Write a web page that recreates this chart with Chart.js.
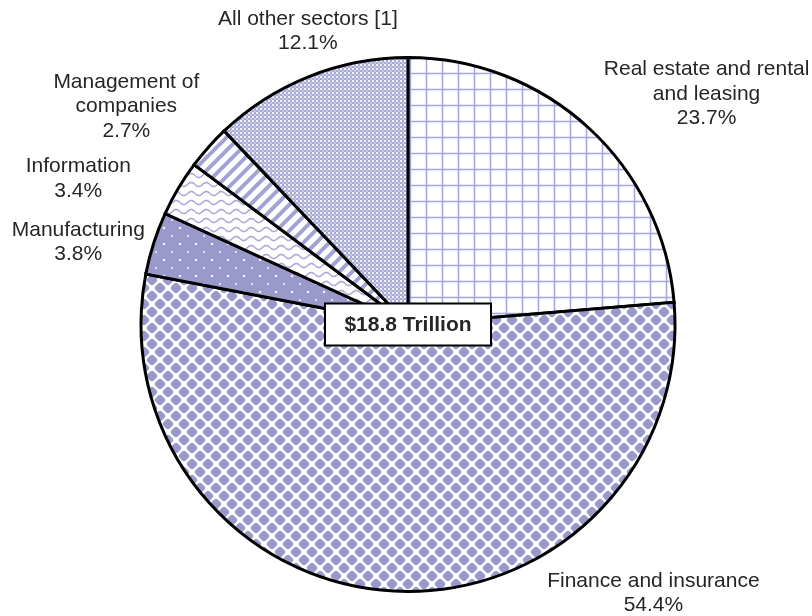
<!DOCTYPE html>
<html>
<head>
<meta charset="utf-8">
<script src="https://cdn.jsdelivr.net/npm/chart.js@4"></script>
<style>
  html, body { margin: 0; padding: 0; background: #fff; }
  #wrap { width: 812px; height: 616px; }
</style>
</head>
<body>
<div id="wrap"><canvas id="pie" width="812" height="616"></canvas></div>
<script>
// slices, clockwise from 12 o'clock
const sectors = ['Real estate and rental and leasing', 'Finance and insurance', 'Manufacturing',
                 'Information', 'Management of companies', 'All other sectors [1]'];
const shares = [23.7, 54.4, 3.8, 3.4, 2.7, 12.1];
const labelLines = [
    ['Real estate and rental', 'and leasing'],
    ['Finance and insurance'],
    ['Manufacturing'],
    ['Information'],
    ['Management of', 'companies'],
    ['All other sectors [1]']
];
const totalLabel = '$18.8 Trillion';

const PURPLE = '#9999cc';

function makeTile(w, h, draw)
{
    let c = document.createElement('canvas');
    c.width = w; c.height = h;
    let g = c.getContext('2d');
    draw(g, w, h);
    return document.getElementById('pie').getContext('2d').createPattern(c, 'repeat');
}

let gridFill = makeTile(16, 16, (g) => {
    g.fillStyle = '#fff'; g.fillRect(0, 0, 16, 16);
    g.strokeStyle = '#a6a6d6'; g.lineWidth = 1.5;
    g.beginPath(); g.moveTo(10.5, 0); g.lineTo(10.5, 16); g.moveTo(0, 9.5); g.lineTo(16, 9.5); g.stroke();
});

// diamonds with rounded tips, offset rows
let diamondFill = makeTile(16, 16, (g) => {
    g.fillStyle = '#fff'; g.fillRect(0, 0, 16, 16);
    g.fillStyle = PURPLE;
    [[0,0],[16,0],[0,16],[16,16],[8,8]].forEach( (p) => {
        let s = 6.3;
        g.save();
        g.beginPath(); g.arc(p[0], p[1], 5.3, 0, Math.PI*2); g.clip();
        g.beginPath();
        g.moveTo(p[0], p[1]-s); g.lineTo(p[0]+s, p[1]); g.lineTo(p[0], p[1]+s); g.lineTo(p[0]-s, p[1]);
        g.closePath(); g.fill();
        g.restore();
    });
});

let dotFill = makeTile(16, 16, (g) => {
    g.fillStyle = PURPLE; g.fillRect(0, 0, 16, 16);
    g.fillStyle = 'rgba(255,255,255,0.85)';
    g.beginPath(); g.arc(4, 4, 1.3, 0, Math.PI*2); g.fill();
    g.beginPath(); g.arc(12, 12, 1.1, 0, Math.PI*2); g.fill();
});

let waveFill = makeTile(15, 9, (g) => {
    g.fillStyle = '#fff'; g.fillRect(0, 0, 15, 9);
    g.strokeStyle = '#aaaad8'; g.lineWidth = 1.6;
    g.beginPath();
    for (let x = 0; x <= 15; x += 0.5)
    {
        let y = 4.5 + 2 * Math.sin(2*Math.PI*x/15);
        if (x == 0) g.moveTo(x, y); else g.lineTo(x, y);
    }
    g.stroke();
});

let stripeFill = makeTile(13, 13, (g) => {
    g.fillStyle = '#fff'; g.fillRect(0, 0, 13, 13);
    g.strokeStyle = '#a2a2d4'; g.lineWidth = 4;
    g.beginPath();
    g.moveTo(-6.5, 6.5); g.lineTo(6.5, -6.5);
    g.moveTo(0, 13); g.lineTo(13, 0);
    g.moveTo(6.5, 19.5); g.lineTo(19.5, 6.5);
    g.stroke();
});

let checkFill = makeTile(4, 4, (g) => {
    g.fillStyle = '#a9a9d9'; g.fillRect(0, 0, 4, 4);
    g.fillStyle = 'rgba(255,255,255,0.85)'; g.fillRect(0, 0, 2, 2);
    g.fillStyle = 'rgba(255,255,255,0.35)'; g.fillRect(2, 2, 2, 2);
});

const fills = [gridFill, diamondFill, dotFill, waveFill, stripeFill, checkFill];

// where each label block sits, in units of the pie radius from its centre
const labelSpots = [[1.112, -0.858], [0.914, 1.0], [-1.228, -0.306], [-1.228, -0.543], [-1.049, -0.812], [-0.373, -1.093]];

const pieLabels = {
    id: 'pieLabels',
    afterDraw(chart)
    {
        let ctx = chart.ctx;
        let arcs = chart.getDatasetMeta(0).data;
        let cx = arcs[0].x, cy = arcs[0].y, r = arcs[0].outerRadius + 1.5;
        ctx.save();
        ctx.fillStyle = '#262626';
        ctx.textAlign = 'center';
        ctx.textBaseline = 'middle';
        ctx.font = '21px "Liberation Sans", Arial, sans-serif';
        const lh = 24.5;
        labelLines.forEach( (lines, i) =>
        {
            let all = lines.concat([shares[i].toFixed(1) + '%']);
            let x = cx + labelSpots[i][0] * r;
            let y0 = cy + labelSpots[i][1] * r - (all.length - 1) * lh / 2;
            all.forEach( (t, k) => ctx.fillText(t, x, y0 + k * lh) );
        });

        // total box in the middle
        ctx.font = 'bold 21px "Liberation Sans", Arial, sans-serif';
        let bw = 166, bh = 42;
        ctx.fillStyle = '#fff';
        ctx.fillRect(cx - bw/2, cy - bh/2, bw, bh);
        ctx.strokeStyle = '#000'; ctx.lineWidth = 2;
        ctx.strokeRect(cx - bw/2, cy - bh/2, bw, bh);
        ctx.fillStyle = '#262626';
        ctx.fillText(totalLabel, cx, cy + 1);
        ctx.restore();
    }
};

new Chart(document.getElementById('pie'),
    {
        type: 'pie',
        data: {
            labels: sectors,
            datasets: [{
                data: shares,
                backgroundColor: fills,
                borderColor: '#000',
                borderWidth: 3,
                borderJoinStyle: 'miter'
            }]
        },
        options: {
            responsive: false,
            animation: false,
            layout: { padding: { top: 56, bottom: 23, left: 4, right: 0 } },
            plugins: { legend: { display: false }, tooltip: { enabled: false } }
        },
        plugins: [pieLabels]
    });
</script>
</body>
</html>
